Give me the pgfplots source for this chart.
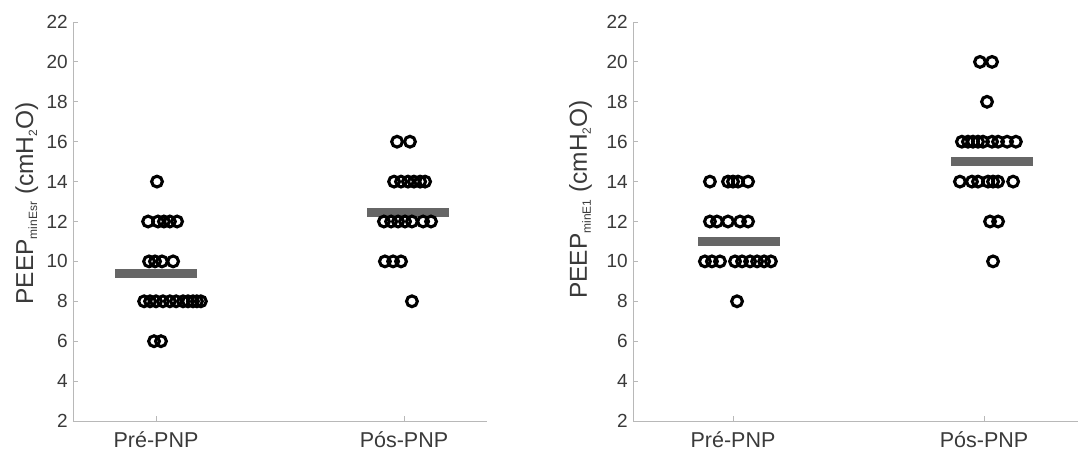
\documentclass[border=0pt]{standalone}
\usepackage{fontspec}
\setmainfont{Liberation Sans}
\usepackage{pgfplots}
\pgfplotsset{compat=1.18}
\definecolor{axgray}{HTML}{B8B8B8}
\definecolor{txtgray}{HTML}{3A3A3A}
\definecolor{bargray}{HTML}{666666}
\pgfplotsset{
  myax/.style={
    scale only axis, height=399pt, ymin=2, ymax=22, ytick={2,4,...,22},
    axis lines=left, axis line style={-, draw=axgray, line width=0.8pt},
    tick style={draw=axgray, line width=0.8pt}, tick align=inside, major tick length=5pt,
    xtick={0,1}, xticklabels={Pré-PNP,Pós-PNP},
    ticklabel style={text=txtgray},
    yticklabel style={font=\fontsize{19}{19}\selectfont, inner sep=0pt, xshift=-5pt},
    xticklabel style={font=\fontsize{21.5}{21.5}\selectfont, inner sep=0pt, yshift=-10pt},
    /pgf/number format/assume math mode=true,
    ylabel style={font=\fontsize{24.5}{24.5}\selectfont, text=txtgray, anchor=base, inner sep=0pt},
    clip=false,
  },
  pts/.style={only marks, mark=o, mark size=5.4pt, mark options={line width=3.1pt, draw=black}},
  mbar/.style={bargray, line width=9pt, forget plot},
}
\newcommand{\sub}[1]{\raisebox{-4pt}{\fontsize{12}{12}\selectfont #1}}
\begin{document}
\begin{tikzpicture}
\path[use as bounding box] (0,0) rectangle (1078pt,452pt);
% Left panel
\begin{axis}[myax, at={(73pt,31pt)}, anchor=south west, width=414pt,
  xmin=-0.3347, xmax=1.3347,
  ylabel={PEEP\sub{minEsr} (cmH\sub{2}O)},
  ylabel style={at={(axis description cs:-0.0966,0.545)}}]
\addplot[pts] coordinates {
 (0.004,14)
 (-0.032,12) (0.008,12) (0.032,12) (0.056,12) (0.085,12)
 (-0.028,10) (-0.004,10) (0.024,10) (0.069,10)
 (-0.048,8) (-0.024,8) (0,8) (0.028,8) (0.056,8) (0.081,8) (0.109,8) (0.129,8) (0.149,8) (0.165,8) (0.181,8)
 (-0.008,6) (0.020,6)
};
\addplot[pts] coordinates {
 (0.972,16) (1.024,16)
 (0.960,14) (0.988,14) (1.016,14) (1.040,14) (1.065,14) (1.085,14)
 (0.919,12) (0.948,12) (0.976,12) (1.004,12) (1.032,12) (1.077,12) (1.109,12)
 (0.923,10) (0.956,10) (0.988,10)
 (1.032,8)
};
\addplot[mbar] coordinates {(-0.165,9.4) (0.165,9.4)};
\addplot[mbar] coordinates {(0.851,12.45) (1.181,12.45)};
\end{axis}
% Right panel
\begin{axis}[myax, at={(633pt,31pt)}, anchor=south west, width=445pt,
  xmin=-0.3984, xmax=1.3745,
  ylabel={PEEP\sub{minE1} (cmH\sub{2}O)},
  ylabel style={at={(axis description cs:-0.1034,0.555)}}]
\addplot[pts] coordinates {
 (-0.092,14) (-0.020,14) (0,14) (0.020,14) (0.060,14)
 (-0.092,12) (-0.064,12) (-0.020,12) (0.028,12) (0.060,12)
 (-0.112,10) (-0.084,10) (-0.052,10) (0.008,10) (0.036,10) (0.068,10) (0.096,10) (0.124,10) (0.151,10)
 (0.016,8)
};
\addplot[pts] coordinates {
 (0.984,20) (1.032,20)
 (1.012,18)
 (0.912,16) (0.936,16) (0.956,16) (0.976,16) (0.996,16) (1.032,16) (1.056,16) (1.092,16) (1.127,16)
 (0.904,14) (0.952,14) (0.976,14) (1.016,14) (1.036,14) (1.056,14) (1.116,14)
 (1.024,12) (1.056,12)
 (1.036,10)
};
\addplot[mbar] coordinates {(-0.139,11.0) (0.187,11.0)};
\addplot[mbar] coordinates {(0.869,15.0) (1.195,15.0)};
\end{axis}
\end{tikzpicture}
\end{document}
